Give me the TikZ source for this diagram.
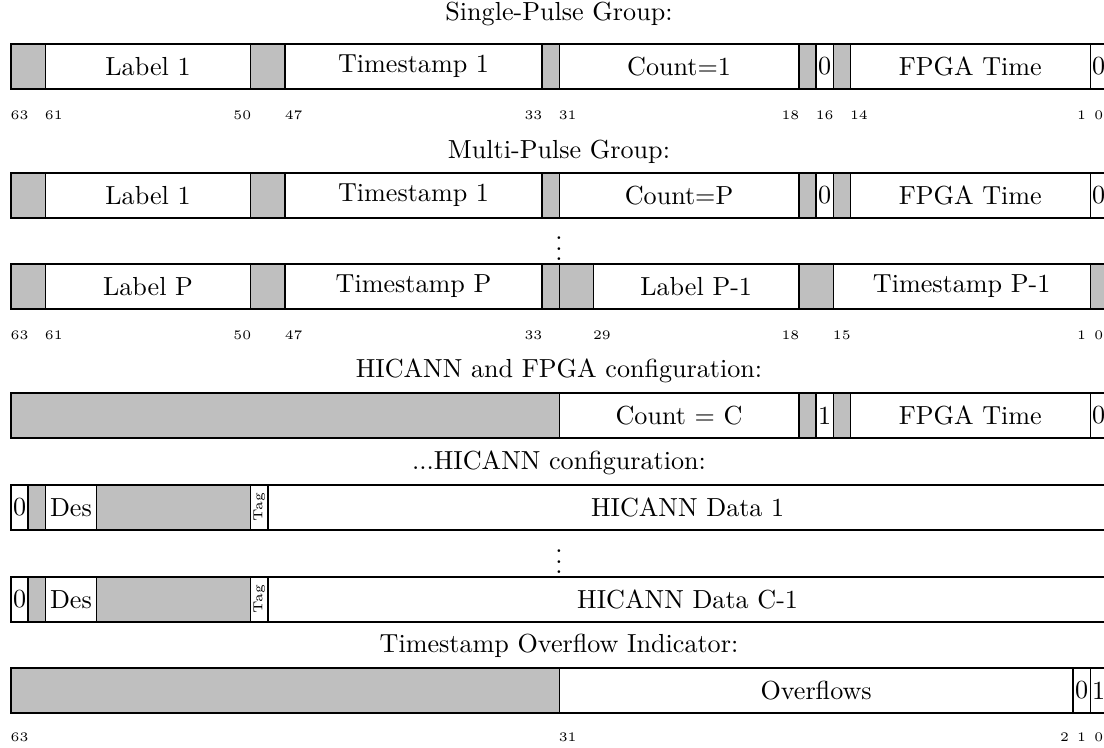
\documentclass[tikz,border=0pt]{standalone}
\usepackage{graphicx}
% one drawing unit = one pixel of the final sheet; y grows downwards
\tikzset{
  fieldbox/.style={draw=black, line width=0.5pt, inner sep=0pt, outer sep=0pt,
                   minimum height=17.235pt},
  pad/.style={fieldbox, fill=lightgray},
  bitnum/.style={font=\tiny, inner sep=0pt},
  rowtitle/.style={inner sep=0pt},
}
% \fld{name}{high bit}{low bit}{row top}{style}{text}
\newcommand\fld[6]{%
  \node[#5, minimum width={(#2-#3+1)*6.5608pt}] (#1)
    at ({11+(127-#2-#3)/2*17.13},{#4+22.5}) {#6};}
% \bitlbl{name}{bit}{y}
\newcommand\bitlbl[3]{%
  \node[bitnum] (#1) at ({11+(63.5-#2)*17.13},#3) {#2};}
\begin{document}
\begin{tikzpicture}[x=0.383pt, y=-0.383pt]
\useasboundingbox (0,0) rectangle (1104,748);
\clip (0,0) rectangle (1104,748);

% ---------- single pulse ----------
\node[rowtitle] (t1) at (559,14) {Single-Pulse Group:};
\fld{sp0}{63}{62}{44}{pad}{}
\fld{sp1}{61}{50}{44}{fieldbox}{Label 1}
\fld{sp2}{49}{48}{44}{pad}{}
\fld{sp3}{47}{33}{44}{fieldbox}{Timestamp 1}
\fld{sp4}{32}{32}{44}{pad}{}
\fld{sp5}{31}{18}{44}{fieldbox}{Count=1}
\fld{sp6}{17}{17}{44}{pad}{}
\fld{sp7}{16}{16}{44}{fieldbox}{0}
\fld{sp8}{15}{15}{44}{pad}{}
\fld{sp9}{14}{1}{44}{fieldbox}{FPGA Time}
\fld{sp10}{0}{0}{44}{fieldbox}{0}
\foreach \b in {63,61,50,47,33,31,18,16,14,1,0} {\bitlbl{na\b}{\b}{115}}

% ---------- multi pulse ----------
\node[rowtitle] (t2) at (559,152) {Multi-Pulse Group:};
\fld{mp0}{63}{62}{173}{pad}{}
\fld{mp1}{61}{50}{173}{fieldbox}{Label 1}
\fld{mp2}{49}{48}{173}{pad}{}
\fld{mp3}{47}{33}{173}{fieldbox}{Timestamp 1}
\fld{mp4}{32}{32}{173}{pad}{}
\fld{mp5}{31}{18}{173}{fieldbox}{Count=P}
\fld{mp6}{17}{17}{173}{pad}{}
\fld{mp7}{16}{16}{173}{fieldbox}{0}
\fld{mp8}{15}{15}{173}{pad}{}
\fld{mp9}{14}{1}{173}{fieldbox}{FPGA Time}
\fld{mp10}{0}{0}{173}{fieldbox}{0}
\node[inner sep=0pt] (d1) at (559,241) {$\vdots$};
\fld{mq0}{63}{62}{264}{pad}{}
\fld{mq1}{61}{50}{264}{fieldbox}{Label P}
\fld{mq2}{49}{48}{264}{pad}{}
\fld{mq3}{47}{33}{264}{fieldbox}{Timestamp P}
\fld{mq4}{32}{32}{264}{pad}{}
\fld{mq5}{31}{30}{264}{pad}{}
\fld{mq6}{29}{18}{264}{fieldbox}{Label P-1}
\fld{mq7}{17}{16}{264}{pad}{}
\fld{mq8}{15}{1}{264}{fieldbox}{Timestamp P-1}
\fld{mq9}{0}{0}{264}{pad}{}
\foreach \b in {63,61,50,47,33,29,18,15,1,0} {\bitlbl{nb\b}{\b}{335}}

% ---------- configuration ----------
\node[rowtitle] (t3) at (559,371) {HICANN and FPGA configuration:};
\fld{cf0}{63}{32}{393}{pad}{}
\fld{cf1}{31}{18}{393}{fieldbox}{Count = C}
\fld{cf2}{17}{17}{393}{pad}{}
\fld{cf3}{16}{16}{393}{fieldbox}{1}
\fld{cf4}{15}{15}{393}{pad}{}
\fld{cf5}{14}{1}{393}{fieldbox}{FPGA Time}
\fld{cf6}{0}{0}{393}{fieldbox}{0}

\node[rowtitle] (t4) at (559,463) {...HICANN configuration:};
\fld{ha0}{63}{63}{485}{fieldbox}{0}
\fld{ha1}{62}{62}{485}{pad}{}
\fld{ha2}{61}{59}{485}{fieldbox}{Des}
\fld{ha3}{58}{50}{485}{pad}{}
\fld{ha4}{49}{49}{485}{fieldbox}{\rotatebox{90}{\tiny Tag}}
\fld{ha5}{48}{0}{485}{fieldbox}{HICANN Data 1}
\node[inner sep=0pt] (d2) at (559,554) {$\vdots$};
\fld{hb0}{63}{63}{577}{fieldbox}{0}
\fld{hb1}{62}{62}{577}{pad}{}
\fld{hb2}{61}{59}{577}{fieldbox}{Des}
\fld{hb3}{58}{50}{577}{pad}{}
\fld{hb4}{49}{49}{577}{fieldbox}{\rotatebox{90}{\tiny Tag}}
\fld{hb5}{48}{0}{577}{fieldbox}{HICANN Data C-1}

% ---------- overflow ----------
\node[rowtitle] (t5) at (559,646) {Timestamp Overflow Indicator:};
\fld{ov0}{63}{32}{668}{pad}{}
\fld{ov1}{31}{2}{668}{fieldbox}{Overflows}
\fld{ov2}{1}{1}{668}{fieldbox}{0}
\fld{ov3}{0}{0}{668}{fieldbox}{1}
\foreach \b in {63,31,2,1,0} {\bitlbl{nc\b}{\b}{737}}
\end{tikzpicture}
\end{document}
